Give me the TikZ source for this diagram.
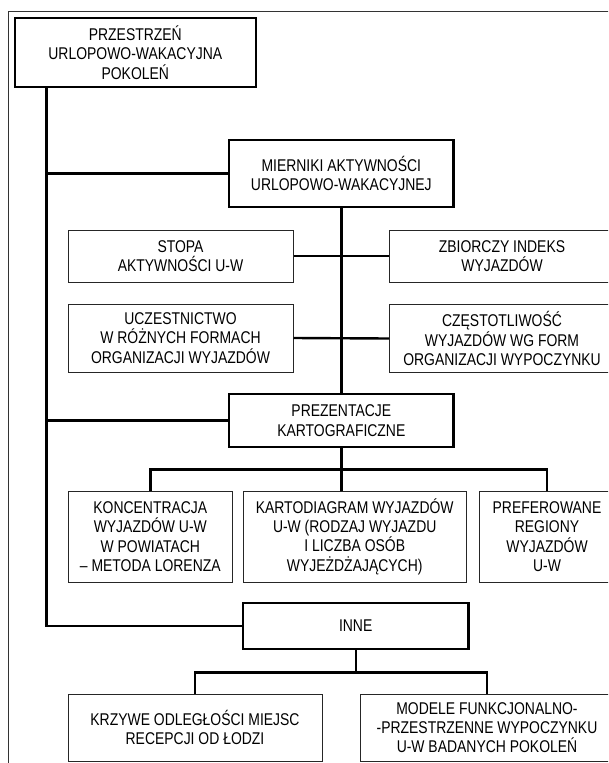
\documentclass[tikz,border=0pt]{standalone}
\usepackage{fontspec}
\setmainfont{Liberation Sans}[FakeStretch=0.82]
\begin{document}
\begin{tikzpicture}[x=1pt,y=-1pt,
  box/.style={draw=black!85, line width=1pt, align=center, inner sep=0pt,
    text=black, font=\fontsize{17}{19.3}\selectfont},
  mainbox/.style={box, draw=black, line width=2.4pt},
  conn/.style={line width=2.4pt}]
          \clip (0,0) rectangle (608,763);
          \draw [line width=0.9pt, black!80] (8,11.5) rectangle (650,800);
          \coordinate (t) at (46.5,0);

          \node [mainbox, minimum width=241pt, minimum height=69pt] (v1) at (135.3,52.5) {PRZESTRZEŃ\\URLOPOWO-WAKACYJNA\\POKOLEŃ};
          \node [mainbox, minimum width=224.5pt, minimum height=67pt] (v2) at (341.3,173.5) {MIERNIKI AKTYWNOŚCI\\URLOPOWO-WAKACYJNEJ};
          \node [box, minimum width=225pt, minimum height=52pt] (v3) at (180.5,256) {STOPA\\AKTYWNOŚCI U-W};
          \node [box, minimum width=225pt, minimum height=52pt] (v4) at (502,256) {ZBIORCZY INDEKS\\WYJAZDÓW};
          \node [box, minimum width=225pt, minimum height=68pt] (v5) at (180.5,338) {UCZESTNICTWO\\W RÓŻNYCH FORMACH\\ORGANIZACJI WYJAZDÓW};
          \node [box, minimum width=225pt, minimum height=68pt] (v6) at (502,338.5) {CZĘSTOTLIWOŚĆ\\WYJAZDÓW WG FORM\\ORGANIZACJI WYPOCZYNKU};
          \node [mainbox, minimum width=224.5pt, minimum height=53pt] (v7) at (341.3,420.5) {PREZENTACJE\\KARTOGRAFICZNE};
          \node [box, minimum width=164.5pt, minimum height=91pt] (v8) at (150.3,536.5) {KONCENTRACJA\\WYJAZDÓW U-W\\W POWIATACH\\– METODA LORENZA};
          \node [box, minimum width=223pt, minimum height=91pt] (v9) at (354.7,536.5) {KARTODIAGRAM WYJAZDÓW\\U-W (RODZAJ WYJAZDU\\I LICZBA OSÓB\\WYJEŻDŻAJĄCYCH)};
          \node [box, minimum width=135pt, minimum height=91pt] (v10) at (547,536.5) {PREFEROWANE\\REGIONY\\WYJAZDÓW\\U-W};
          \node [mainbox, minimum width=225.5pt, minimum height=46pt] (v11) at (355.7,626) {INNE};
          \node [box, minimum width=254pt, minimum height=67pt] (v12) at (195,727.5) {KRZYWE ODLEGŁOŚCI MIEJSC\\RECEPCJI OD ŁODZI};
          \node [box, minimum width=254pt, minimum height=67pt] (v13) at (487,727.5) {MODELE FUNKCJONALNO-\\-PRZESTRZENNE WYPOCZYNKU\\U-W BADANYCH POKOLEŃ};

          \draw [conn] (v1.south -| t) |- (v11.west);
          \draw [conn] (t |- v2.west) -- (v2.west);
          \draw [conn] (t |- v7.west) -- (v7.west);
          \draw [conn] (v2.south) -- (v7.north);
          \draw [conn] (v3.east) -- (v4.west);
          \draw [conn] (v5.east) -- (v6.west);
          \draw [conn] (v7.south) -- (v7.south |- v9.north);
          \draw [conn] (v8.north) -- ++(0,-21) -| (v10.north);
          \draw [conn] (v11.south) -- ++(0,24);
          \draw [conn] (v12.north) -- ++(0,-21) -| (v13.north);
\end{tikzpicture}
\end{document}
